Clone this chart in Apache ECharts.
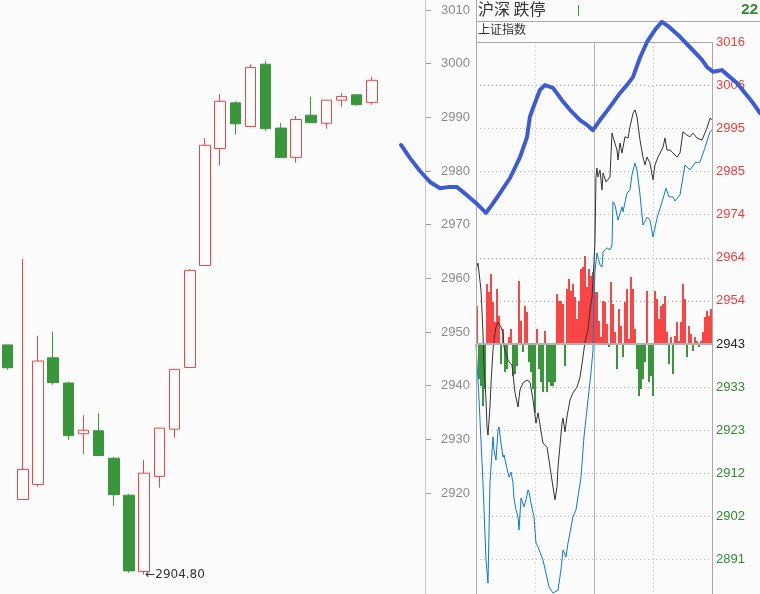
<!DOCTYPE html>
<html><head><meta charset="utf-8">
<script src="https://cdn.jsdelivr.net/npm/echarts@6/dist/echarts.min.js"></script>
<style>html,body{margin:0;padding:0;background:#fcfcfc}#c{width:760px;height:594px}</style>
</head><body><div id="c"></div>
<script>
// ---- daily candles (left chart) ----
const days = ['1','2','3','4','5','6','7','8','9','10','11','12','13','14','15','16','17','18','19','20','21','22','23','24','25'];
const opens  = [2947.6,2918.8,2921.6,2945.2,2940.5,2931.05,2931.6,2926.5,2919.6,2905.4,2923.1,2931.9,2943.4,2962.4,2984.2,2992.7,2988.3,2999.9,2988.0,2982.55,2990.4,2988.9,2993.2,2994.2,2992.8];
const closes = [2943.35,2924.4,2944.6,2940.6,2930.7,2931.7,2927.0,2919.7,2905.5,2923.7,2932.1,2943.05,2961.5,2984.8,2993.0,2988.8,2999.3,2987.9,2982.5,2989.6,2989.0,2993.2,2993.9,2992.35,2996.9];
const lows   = [2943.0,2918.8,2921.2,2940.2,2929.9,2927.3,2927.0,2917.6,2905.15,2904.8,2921.0,2930.3,2943.4,2962.4,2981.0,2986.8,2988.3,2987.5,2982.5,2981.55,2989.0,2987.9,2992.0,2992.2,2992.35];
const highs  = [2947.6,2963.6,2949.3,2950.1,2940.7,2934.5,2934.9,2926.7,2919.8,2926.2,2932.1,2943.05,2961.7,2986.15,2994.35,2993.0,2999.9,3000.5,2988.95,2990.25,2993.8,2993.2,2994.5,2994.2,2997.5];
const leftTicks = [2920,2930,2940,2950,2960,2970,2980,2990,3000,3010];
const lowLabel = '←2904.80';

// ---- thick blue overlay line (x in day-slot units) ----
const overlayX = [25.92,26.51,27.17,27.83,28.49,29.01,29.61,30.26,30.99,31.52,31.91,32.44,33.10,33.76,34.22,34.41,34.61,35.07,35.40,35.93,36.52,37.05,37.71,38.17,38.56,39.03,39.49,39.88,40.34,40.80,41.20,41.66,42.12,42.65,43.11,43.51,44.30,45.15,45.75,46.07,46.47,47.06,48.05,49.10,49.57];
const overlayY = [2984.85,2982.4,2980.0,2977.95,2976.8,2977.0,2977.0,2975.5,2973.7,2972.2,2973.7,2975.9,2978.7,2982.6,2986.3,2990.1,2991.7,2995.1,2996.0,2995.5,2993.2,2991.4,2989.5,2988.6,2987.6,2989.5,2991.2,2992.7,2994.5,2996.0,2997.5,3001.1,3004.0,3006.3,3007.8,3007.0,3005.0,3002.5,3000.7,2999.4,2998.5,2998.8,2996.4,2992.7,2990.8];

// ---- intraday inset (上证指数) ----
const insetTickLabels = ['3016','3006','2995','2985','2974','2964','2954','2943','2933','2923','2912','2902','2891'];
const insetBase = 2943, insetStep = 10.4;
const idxT = [0,2.0,5.1,7.1,8.1,10.2,11.2,12.2,14.2,15.3,17.3,18.3,20.3,22.4,24.4,25.4,27.5,28.5,32.5,34.6,36.6,39.7,42.7,44.7,47.8,51.9,54.9,58.0,61.0,63.1,65.1,68.1,72.2,75.3,78.3,80.3,82.4,83.4,87.5,88.5,90.5,92.5,95.6,98.6,102.7,105.8,108.8,110.8,113.9,115.9,118.0,119.0,121.0,122.0,123.0,124.1,126.1,128.1,129.2,132.2,134.2,136.3,138.3,139.3,143.4,144.4,146.4,148.5,151.5,154.6,156.6,159.7,161.7,163.7,166.8,169.8,171.9,173.9,176.9,180.0,182.0,185.1,190.2,192.2,194.2,197.3,200.3,204.4,207.5,210.5,214.6,217.6,220.7,224.7,229.8,234.9,238.0,240.0];
const idxP = [2961.0,2962.5,2956.0,2945.7,2937.5,2929.5,2923.0,2921.0,2927.8,2933.6,2941.6,2944.0,2947.1,2948.3,2948.1,2947.1,2945.7,2942.3,2939.1,2938.4,2937.9,2931.2,2927.8,2931.9,2933.6,2934.3,2933.8,2929.5,2923.9,2926.4,2923.5,2919.1,2918.1,2913.3,2908.5,2905.4,2908.5,2913.3,2923.9,2925.1,2921.8,2925.4,2929.5,2931.2,2932.6,2935.0,2939.9,2943.5,2946.4,2951.2,2954.3,2958.4,2967.4,2983.3,2985.5,2983.3,2985.0,2980.2,2984.3,2982.1,2981.8,2983.3,2993.9,2993.0,2989.8,2987.4,2991.5,2989.1,2993.0,2992.7,2995.4,2998.7,2999.5,2997.8,2992.2,2988.1,2986.2,2988.1,2986.7,2982.6,2986.2,2988.1,2990.5,2992.7,2989.8,2989.8,2989.1,2988.1,2989.1,2994.2,2993.4,2993.0,2993.9,2992.7,2992.2,2995.1,2997.5,2997.1];
const eqT = [0,2.0,3.1,7.1,10.2,12.2,13.2,14.2,17.3,18.3,20.3,22.4,23.4,25.4,27.5,28.5,32.5,33.6,35.6,37.6,38.6,40.7,42.7,43.7,45.8,47.8,48.8,50.8,52.9,53.9,55.9,59.0,61.0,63.1,68.1,71.2,74.2,78.3,83.4,86.4,88.5,91.5,93.6,98.6,101.7,106.8,109.8,113.9,116.9,119.0,120.5,121.0,123.0,126.1,128.1,129.2,133.2,136.3,138.3,139.3,141.4,144.4,148.5,149.5,153.6,156.6,158.6,161.7,163.7,166.8,169.8,173.9,176.9,180.0,184.1,189.2,193.2,196.3,200.3,202.4,207.5,212.5,217.6,222.7,227.8,232.8,237.9,240.0];
const eqP = [2943.0,2943.2,2929.5,2909.5,2890.9,2885.3,2897.4,2909.5,2920.6,2917.4,2915.0,2922.2,2923.0,2919.1,2915.7,2916.2,2911.9,2910.9,2912.1,2909.5,2905.8,2903.0,2901.3,2898.1,2905.8,2905.4,2903.7,2905.4,2907.8,2907.3,2904.6,2901.3,2895.0,2894.0,2890.9,2887.7,2884.4,2882.9,2883.6,2888.5,2893.3,2891.6,2895.0,2901.3,2903.0,2910.9,2920.6,2929.5,2936.0,2941.6,2957.2,2960.4,2965.0,2962.1,2961.6,2965.2,2966.2,2965.7,2966.9,2977.3,2976.5,2972.9,2976.1,2974.9,2979.4,2980.2,2983.8,2986.7,2985.0,2979.0,2971.7,2973.6,2972.9,2968.8,2973.4,2977.3,2980.6,2978.5,2978.5,2977.5,2979.0,2986.2,2985.0,2986.7,2986.9,2990.3,2994.2,2994.6];
// breadth bars (units: 43.1 per grid step)
const breadth = [38,-35,-42,-62,-45,60,52,70,42,22,55,28,-20,15,-28,-25,7,15,-32,-30,-22,63,23,-8,38,32,-18,-28,-45,-69,15,-25,-38,-48,13,-48,-38,-42,-42,-38,50,43,43,40,-22,55,65,53,60,47,25,43,75,77,88,57,75,68,72,52,52,23,7,43,42,20,-3,62,40,12,-25,35,18,-13,42,55,5,67,55,15,-25,-52,-45,-35,-18,53,-38,-32,-52,53,45,25,38,40,48,12,-20,7,-30,8,22,3,22,60,45,-13,18,10,-7,7,3,-3,3,12,27,33,28,35];
const breadthPerStep = 43.1;

const RED = '#f24444', GREEN = '#3a963a';
const toStep = p => (p - insetBase) / insetStep;

const chart = echarts.init(document.getElementById('c'), null, {renderer: 'canvas'});
const candleData = days.map((d, i) => [opens[i], closes[i], lows[i], highs[i]]);
const lowIdx = lows.indexOf(Math.min(...lows));

chart.setOption({
  animation: false,
  backgroundColor: '#fcfcfc',
  grid: [
    {left: 0, top: 10, width: 379.5, height: 590.4, outerBoundsMode: 'none', containLabel: false},
    {left: 0, top: 10, width: 760, height: 590.4, outerBoundsMode: 'none', containLabel: false},
    {left: 476, top: 42.3, width: 236, height: 560.3, outerBoundsMode: 'none', containLabel: false}
  ],
  xAxis: [
    {type: 'category', gridIndex: 0, data: days, boundaryGap: true, axisLine: {show: false}, axisTick: {show: false}, axisLabel: {show: false}, splitLine: {show: false}},
    {type: 'value', gridIndex: 1, min: -0.5, max: 49.57, show: false},
    {type: 'value', gridIndex: 2, min: 0, max: 240, interval: 60, axisLine: {show: false}, axisTick: {show: false}, axisLabel: {show: false},
      splitLine: {show: true, lineStyle: {color: '#b8b8b8', type: [1, 3], width: 1}}},
    {type: 'value', gridIndex: 2, min: 0, max: 240, interval: 120, axisLine: {show: false}, axisTick: {show: false}, axisLabel: {show: false},
      splitLine: {show: true, lineStyle: {color: '#b4b4b4', type: 'solid', width: 1}}},
    {type: 'category', gridIndex: 2, data: breadth.map((_, i) => String(i)), show: false}
  ],
  yAxis: [
    {type: 'value', gridIndex: 0, min: 2900, max: 3010, interval: 10, position: 'right', offset: 45.5,
      axisLine: {show: false},
      axisTick: {show: true, length: 6, customValues: leftTicks, lineStyle: {color: '#9a9a9a'}},
      axisLabel: {show: true, customValues: leftTicks, margin: 16, color: '#8a8a8a', fontSize: 13,
        fontFamily: 'Liberation Sans, Arial, sans-serif', formatter: v => String(v)},
      splitLine: {show: false}},
    {type: 'value', gridIndex: 1, min: 2900, max: 3010, show: false},
    {type: 'value', gridIndex: 2, min: -6, max: 7, interval: 1, position: 'right',
      axisLine: {show: false}, axisTick: {show: false},
      axisLabel: {show: true, margin: 4, fontSize: 13, fontFamily: 'Liberation Sans, Arial, sans-serif', showMaxLabel: true,
        formatter: v => insetTickLabels[7 - Math.round(v)] || '',
        color: v => v > 0 ? '#f23c3c' : (v < 0 ? '#2e8b2e' : '#222')},
      splitLine: {show: true, lineStyle: {color: '#b8b8b8', type: [1, 3], width: 1}}}
  ],
  series: [
    {type: 'candlestick', xAxisIndex: 0, yAxisIndex: 0, data: candleData, barWidth: 11,
      itemStyle: {color: 'rgba(0,0,0,0)', color0: GREEN, borderColor: RED, borderColor0: GREEN, borderWidth: 1},
      markPoint: {symbol: 'circle', symbolSize: 0, silent: true,
        data: [{coord: [lowIdx, lows[lowIdx]], value: lows[lowIdx]}],
        label: {show: true, position: 'right', distance: 1, formatter: lowLabel, color: '#333', fontSize: 12, fontFamily: 'DejaVu Sans, sans-serif'}}},
    {type: 'bar', xAxisIndex: 4, yAxisIndex: 2, barCategoryGap: 0, barGap: 0,
      data: breadth.map(v => v / breadthPerStep),
      itemStyle: {color: p => p.value >= 0 ? '#fb4444' : GREEN},
      markLine: {silent: true, symbol: 'none', label: {show: false}, lineStyle: {color: '#b0b0b0', type: 'solid', width: 2}, data: [{yAxis: 0}]}},
    {type: 'line', xAxisIndex: 2, yAxisIndex: 2, data: idxT.map((t, i) => [t, toStep(idxP[i])]), symbol: 'none', lineStyle: {color: '#333', width: 1}, z: 3},
    {type: 'line', xAxisIndex: 2, yAxisIndex: 2, data: eqT.map((t, i) => [t, toStep(eqP[i])]), symbol: 'none', lineStyle: {color: '#0a7ad6', width: 1}, z: 4},
    {type: 'line', xAxisIndex: 1, yAxisIndex: 1, data: overlayX.map((x, i) => [x, overlayY[i]]), symbol: 'none', z: 20,
      lineStyle: {color: '#3b5cd4', width: 4, join: 'round', cap: 'round'}}
  ],
  graphic: [
    {type: 'line', z: 5, shape: {x1: 425.5, y1: 0, x2: 425.5, y2: 594}, style: {stroke: '#c8c8c8', lineWidth: 1}},
    {type: 'line', z: 5, shape: {x1: 476.5, y1: 0, x2: 476.5, y2: 594}, style: {stroke: '#aaaaaa', lineWidth: 1}},
    {type: 'line', z: 5, shape: {x1: 712.5, y1: 42, x2: 712.5, y2: 594}, style: {stroke: '#aaaaaa', lineWidth: 1}},
    {type: 'line', z: 5, shape: {x1: 476, y1: 21.5, x2: 760, y2: 21.5}, style: {stroke: '#aaaaaa', lineWidth: 1}},
    {type: 'line', z: 5, shape: {x1: 476, y1: 42.5, x2: 713, y2: 42.5}, style: {stroke: '#aaaaaa', lineWidth: 1}},
    {type: 'line', z: 5, shape: {x1: 578.5, y1: 5, x2: 578.5, y2: 16}, style: {stroke: GREEN, lineWidth: 1}},
    {type: 'text', z: 5, left: 478, top: 1, style: {text: '沪深 跌停', fill: '#333', font: '16px "Noto Sans CJK SC", sans-serif'}},
    {type: 'text', z: 5, left: 478, top: 23, style: {text: '上证指数', fill: '#333', font: '12px "Noto Sans CJK SC", sans-serif'}},
    {type: 'text', z: 5, right: 2, top: 2, style: {text: '22', fill: '#2e8b2e', font: 'bold 15px "Liberation Sans", Arial, sans-serif'}}
  ]
});
</script>
</body></html>
